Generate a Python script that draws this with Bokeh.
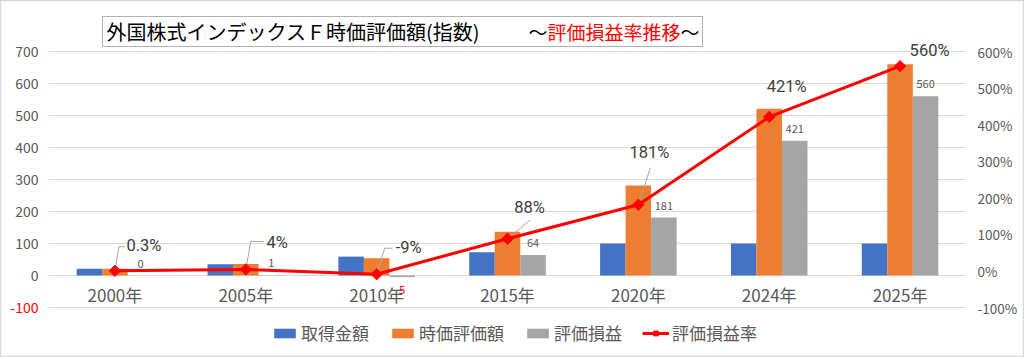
import numpy as np
from bokeh.plotting import figure
from bokeh.models import (Range1d, LinearAxis, FixedTicker, ColumnDataSource, Label, LabelSet,
                          BoxAnnotation, Legend, LegendItem, CustomJSTickFormatter)
from bokeh.core.properties import value
from bokeh.embed import file_html
from bokeh.resources import INLINE

# ---------------- data ----------------
categories = ["2000年", "2005年", "2010年", "2015年", "2020年", "2024年", "2025年"]
cost = [21, 35, 59, 73, 100, 100, 100]            # 取得金額
market_value = [21, 36, 54, 137, 281, 521, 660]   # 時価評価額
gain = [0, 1, -5, 64, 181, 421, 560]              # 評価損益
rate = [0.3, 4, -9, 88, 181, 421, 560]            # 評価損益率 (%)
rate_labels = ["0.3%", "4%", "-9%", "88%", "181%", "421%", "560%"]
left_ticks = [-100, 0, 100, 200, 300, 400, 500, 600, 700]
right_ticks = [-100, 0, 100, 200, 300, 400, 500, 600]
series_names = ["取得金額", "時価評価額", "評価損益", "評価損益率"]

# ---------------- layout / style ----------------
FONT = "Noto Sans CJK JP"
PCT_FONT = "Roboto"
GRID = "#D9D9D9"
TXT = "#595959"
BLUE, ORANGE, GRAY, RED = "#4472C4", "#ED7D31", "#A5A5A5", "#FF0000"

W, H = 1024, 357
ML, MR, MT, MB = 49, 59, 51, 50          # plot-area margins inside the canvas
n = len(categories)
PX_PER_CAT = (W - ML - MR) / n
PX_PER_UNIT = (H - MT - MB) / (left_ticks[-1] - left_ticks[0])
PX_PER_PCT = (H - MT - MB) / (right_ticks[-1] - right_ticks[0])

xs = np.arange(n)
bw = 0.195
x_lo, x_hi = -0.5, n - 0.5

p = figure(width=W, height=H,
           x_range=Range1d(x_lo - ML / PX_PER_CAT, x_hi + MR / PX_PER_CAT),
           y_range=Range1d(left_ticks[0] - MB / PX_PER_UNIT, left_ticks[-1] + MT / PX_PER_UNIT),
           output_backend="svg", toolbar_location=None, title=None,
           min_border=0, min_border_left=0, min_border_right=0, min_border_top=0,
           min_border_bottom=0,
           background_fill_color="white", border_fill_color="white",
           outline_line_color=GRID, outline_line_width=1.5)
p.extra_y_ranges = {"rate": Range1d(right_ticks[0] - MB / PX_PER_PCT,
                                    right_ticks[-1] + MT / PX_PER_PCT)}
p.xgrid.visible = False
p.ygrid.visible = False

# gridlines across the plot area
p.segment(x0=[x_lo] * len(left_ticks), x1=[x_hi] * len(left_ticks), y0=left_ticks,
          y1=left_ticks, line_color=GRID, line_width=1)

src = ColumnDataSource(dict(
    x=xs, rate=rate, rate_label=rate_labels, gain=gain,
    gain_label=[str(abs(g)) for g in gain],
    gain_color=[RED if g < 0 else TXT for g in gain],
    gain_off=[-13 if g < 0 else 12 for g in gain],
    pct_dx=[29, 31.5, 32, 22, 11, 17.5, 29.5],
    pct_dy=[25, 27, 27, 31, 52, 30, 16],
))

r1 = p.vbar(x=xs - bw, top=cost, bottom=0, width=bw, fill_color=BLUE, line_color=None)
r2 = p.vbar(x=xs, top=market_value, bottom=0, width=bw, fill_color=ORANGE, line_color=None)
r3 = p.vbar(x=xs + bw, top=gain, bottom=0, width=bw, fill_color=GRAY, line_color=None)

# leader lines (offsets in px from each rate point: right, up)
leaders = [[(0, 0), (4, 24), (10, 24)],
           [(0, 0), (5, 28), (18, 28)],
           [(0, 0), (8, 26), (16, 26)],
           [(0, 0), (23, 19)],
           [(0, 0), (12, 37)],
           [(0, 0), (14, 5)]]
lx, ly = [], []
for i, pts in enumerate(leaders):
    lx.append([xs[i] + a / PX_PER_CAT for a, b in pts])
    ly.append([rate[i] + b / PX_PER_PCT for a, b in pts])
p.multi_line(lx, ly, y_range_name="rate", line_color="#A6A6A6", line_width=1)

r4 = p.line(xs, rate, y_range_name="rate", line_color=RED, line_width=3)
r5 = p.scatter(xs, rate, y_range_name="rate", marker="square", angle=np.pi / 4, size=8,
               fill_color=RED, line_color=RED)

# category axis, crossing at 0
xa = p.xaxis[0]
xa.fixed_location = 0
xa.ticker = FixedTicker(ticks=list(range(n)))
xa.major_label_overrides = {i: c for i, c in enumerate(categories)}
xa.axis_line_color = None
xa.major_tick_line_color = None
xa.minor_tick_line_color = None
xa.major_label_standoff = 0
xa.major_label_text_font = FONT
xa.major_label_text_font_size = "17px"
xa.major_label_text_color = TXT

# left value axis
ya = p.yaxis[0]
ya.fixed_location = x_lo
ya.ticker = FixedTicker(ticks=[t for t in left_ticks if t >= 0])
ya.axis_line_color = None
ya.major_tick_line_color = None
ya.minor_tick_line_color = None
ya.major_tick_out = 0
ya.major_label_standoff = 11
ya.major_label_text_font = FONT
ya.major_label_text_font_size = "14px"
ya.major_label_text_color = TXT
neg = [t for t in left_ticks if t < 0]
p.text(x=[x_lo] * len(neg), y=neg, text=[str(t) for t in neg], x_offset=-11,
       text_align="right", text_baseline="middle", text_font=value(FONT),
       text_font_size="14px", text_color=RED)

# right percentage axis
ax2 = LinearAxis(y_range_name="rate", ticker=FixedTicker(ticks=right_ticks),
                 formatter=CustomJSTickFormatter(code="return tick + '%';"),
                 fixed_location=x_hi)
ax2.axis_line_color = None
ax2.major_tick_line_color = None
ax2.minor_tick_line_color = None
ax2.major_tick_out = 0
ax2.major_label_standoff = 12
ax2.major_label_text_font = FONT
ax2.major_label_text_font_size = "13.5px"
ax2.major_label_text_color = TXT
p.add_layout(ax2, "right")

# data labels
p.add_layout(LabelSet(x="x", y="rate", text="rate_label", source=src, y_range_name="rate",
                      x_offset="pct_dx", y_offset="pct_dy", text_align="center",
                      text_baseline="middle", text_font=value(PCT_FONT),
                      text_font_size="16.5px", text_color="#404040"))
p.add_layout(LabelSet(x="x", y="gain", text="gain_label", source=src,
                      x_offset=bw * PX_PER_CAT, y_offset="gain_off", text_align="center",
                      text_baseline="middle", text_font=value(FONT), text_font_size="11px",
                      text_color="gain_color"))

# legend below the plot area
legend = Legend(items=[LegendItem(label=series_names[0], renderers=[r1]),
                       LegendItem(label=series_names[1], renderers=[r2]),
                       LegendItem(label=series_names[2], renderers=[r3]),
                       LegendItem(label=series_names[3], renderers=[r4, r5])],
                location=(271, 12), orientation="horizontal",
                glyph_width=27, glyph_height=12, label_standoff=3, spacing=20,
                padding=0, margin=0, border_line_color=None, background_fill_alpha=0,
                label_text_font=FONT, label_text_font_size="17px", label_text_color=TXT)
p.add_layout(legend)

# title box
p.add_layout(BoxAnnotation(left=102, right=702, top=16, bottom=46,
                           left_units="canvas", right_units="canvas", top_units="canvas",
                           bottom_units="canvas", fill_color=None, line_color="black",
                           line_width=1))
for x0, txt, size, col in [(106, "外国株式インデックスＦ時価評価額(指数)", "20px", "black"),
                           (528, "～", "19px", "black"),
                           (547, "評価損益率推移", "19px", RED),
                           (680, "～", "19px", "black")]:
    p.add_layout(Label(x=x0, y=31, x_units="canvas", y_units="canvas", text=txt,
                       text_align="left", text_baseline="middle", text_font=FONT,
                       text_font_size=size, text_color=col))

open("out.html", "w").write(file_html(p, INLINE))
